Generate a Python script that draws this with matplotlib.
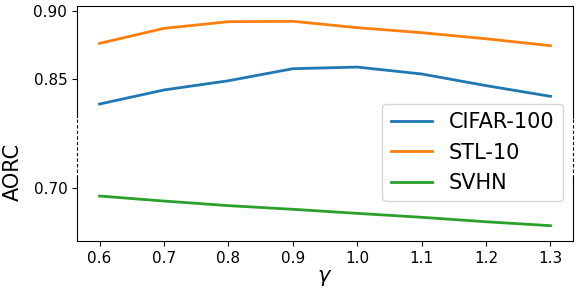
import matplotlib
matplotlib.use("Agg")
import matplotlib.pyplot as plt


GAMMA = [0.6, 0.7, 0.8, 0.9, 1.0, 1.1, 1.2, 1.3]

CIFAR100 = [0.8313, 0.8417, 0.8485, 0.8574, 0.8586, 0.8535, 0.8449, 0.8370]
STL10 = [0.8761, 0.8872, 0.8921, 0.8924, 0.8877, 0.8840, 0.8795, 0.8744]
SVHN = [0.6943, 0.6906, 0.6872, 0.6845, 0.6815, 0.6786, 0.6753, 0.6724]

LABELS = ["CIFAR-100", "STL-10", "SVHN"]
COLORS = ["#1f77b4", "#ff7f0e", "#2ca02c"]

TOP_YTICKS = [0.85, 0.90]
BOTTOM_YTICKS = [0.70]


def main():
    fig = plt.figure(figsize=(5.78, 2.93), dpi=100)

    left = 77 / 578
    width = (573 - 77) / 578
    ax_top = fig.add_axes([left, 1 - 118 / 293, width, (118 - 6) / 293])
    ax_bot = fig.add_axes([left, 1 - 241 / 293, width, (241 - 118) / 293],
                          sharex=ax_top)

    lines = []
    for ax in (ax_top, ax_bot):
        lines = []
        for values, color, label in zip([CIFAR100, STL10, SVHN], COLORS, LABELS):
            line, = ax.plot(GAMMA, values, color=color, lw=2, label=label)
            lines.append(line)

    ax_top.set_ylim(0.8210, 0.9037)
    ax_bot.set_ylim(0.6611, 0.7519)
    ax_top.set_xlim(0.565, 1.335)

    ax_top.set_yticks(TOP_YTICKS)
    ax_top.set_yticklabels(["%.2f" % v for v in TOP_YTICKS])
    ax_bot.set_yticks(BOTTOM_YTICKS)
    ax_bot.set_yticklabels(["%.2f" % v for v in BOTTOM_YTICKS])
    ax_bot.set_xticks(GAMMA)
    ax_bot.set_xticklabels(["%.1f" % v for v in GAMMA])

    ax_top.spines["bottom"].set_visible(False)
    ax_top.tick_params(axis="x", bottom=False, labelbottom=False)
    ax_bot.spines["top"].set_visible(False)

    # break region: dashed spines on both sides
    solid_top = 0.7076
    for side in ("left", "right"):
        ax_bot.spines[side].set_bounds(0.6611, solid_top)
    for x in (0, 1):
        ax_bot.plot([x, x], [solid_top, 0.7519], color="black", lw=0.8,
                    ls=(0, (3, 2)), transform=ax_bot.get_yaxis_transform(),
                    clip_on=False)

    for ax in (ax_top, ax_bot):
        ax.tick_params(labelsize=11)

    ax_bot.set_xlabel("$\\gamma$", fontsize=15, labelpad=2)
    fig.text(12.5 / 578, 1 - 171.5 / 293, "AORC", rotation=90,
             ha="center", va="center", fontsize=15)

    fig.legend(lines, LABELS, loc="upper right", fontsize=15,
               bbox_to_anchor=(563 / 578, 1 - 104 / 293), borderaxespad=0)

    fig.savefig("out.png", dpi=100)


if __name__ == "__main__":
    main()
